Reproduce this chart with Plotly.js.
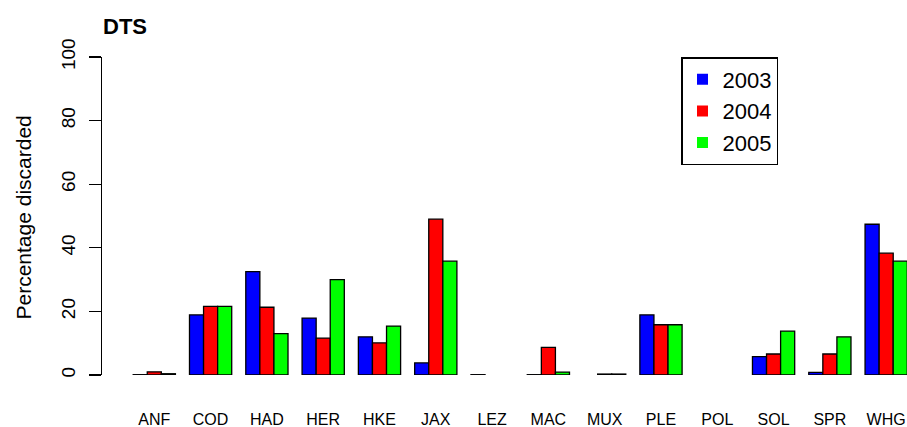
<!DOCTYPE html>
<html>
<head>
<meta charset="utf-8">
<script src="https://cdn.plot.ly/plotly-3.0.1.min.js"></script>
<style>html,body{margin:0;padding:0;background:#fff;}#chart{width:907px;height:427px;}</style>
</head>
<body>
<div id="chart"></div>
<script>
const species = ["ANF","COD","HAD","HER","HKE","JAX","LEZ","MAC","MUX","PLE","POL","SOL","SPR","WHG"];
const years = ["2003","2004","2005"];
const v2003 = [0.1, 18.9, 32.5, 17.9, 12.0, 3.8, 0.1, 0.1, null, 18.9, null, 5.8, 0.8, 47.4];
const v2004 = [1.0, 21.6, 21.3, 11.6, 10.1, 49.0, null, 8.7, 0.3, 15.8, null, 6.6, 6.6, 38.3];
const v2005 = [0.4, 21.6, 13.0, 30.0, 15.4, 35.8, null, 0.9, 0.3, 15.8, null, 13.8, 12.0, 35.8];
const colors = ["#0000FF", "#FF0000", "#00FF00"];
const yTicks = [0, 20, 40, 60, 80, 100];

const series = [v2003, v2004, v2005];
const font = "Liberation Sans, Arial, sans-serif";

const traces = series.map((vals, i) => ({
  type: "bar",
  name: years[i],
  x: species,
  y: vals,
  marker: {color: colors[i], line: {color: "#000", width: 1.3}},
  showlegend: false,
  hoverinfo: "skip"
}));
years.forEach((yr, i) => {
  traces.push({
    type: "scatter",
    mode: "markers",
    name: yr,
    x: [null],
    y: [null],
    marker: {symbol: "square", size: 11, color: colors[i]},
    showlegend: true,
    hoverinfo: "skip"
  });
});

const layout = {
  width: 907,
  height: 427,
  margin: {l: 102, r: 0, t: 57, b: 52},
  paper_bgcolor: "#fff",
  plot_bgcolor: "#fff",
  barmode: "group",
  bargap: 0.25,
  bargroupgap: 0,
  hovermode: false,
  font: {family: font, color: "#000"},
  title: {
    text: "<b>DTS</b>",
    font: {family: font, size: 22, color: "#000"},
    xref: "container", yref: "container",
    x: 103 / 907, xanchor: "left",
    y: 1 - 26 / 427, yanchor: "middle"
  },
  xaxis: {
    type: "category",
    range: [-0.929, 13.37],
    showline: false,
    showgrid: false,
    zeroline: false,
    ticks: "",
    ticklabelstandoff: 33,
    tickfont: {family: font, size: 16, color: "#000"}
  },
  yaxis: {
    range: [0, 100],
    tickvals: yTicks,
    ticktext: yTicks.map(String),
    showline: true,
    linecolor: "#000",
    linewidth: 1.3,
    showgrid: false,
    zeroline: false,
    ticks: "outside",
    ticklen: 12,
    tickwidth: 1.3,
    tickcolor: "#000",
    tickangle: -90,
    ticklabelstandoff: 6,
    tickfont: {family: font, size: 19, color: "#000"}
  },
  legend: {
    x: (681 - 102) / 805, xanchor: "left",
    y: 1.0, yanchor: "top",
    bordercolor: "#000",
    borderwidth: 1.5,
    bgcolor: "#fff",
    font: {family: font, size: 22, color: "#000"},
    tracegroupgap: 0
  },
  annotations: [{
    text: "Percentage discarded",
    xref: "paper", yref: "paper",
    x: (22.5 - 102) / 805, y: (375 - 218) / 318,
    xanchor: "center", yanchor: "middle",
    textangle: -90,
    showarrow: false,
    font: {family: font, size: 21, color: "#000"}
  }]
};

Plotly.newPlot("chart", traces, layout, {displayModeBar: false, staticPlot: true});
</script>
</body>
</html>
